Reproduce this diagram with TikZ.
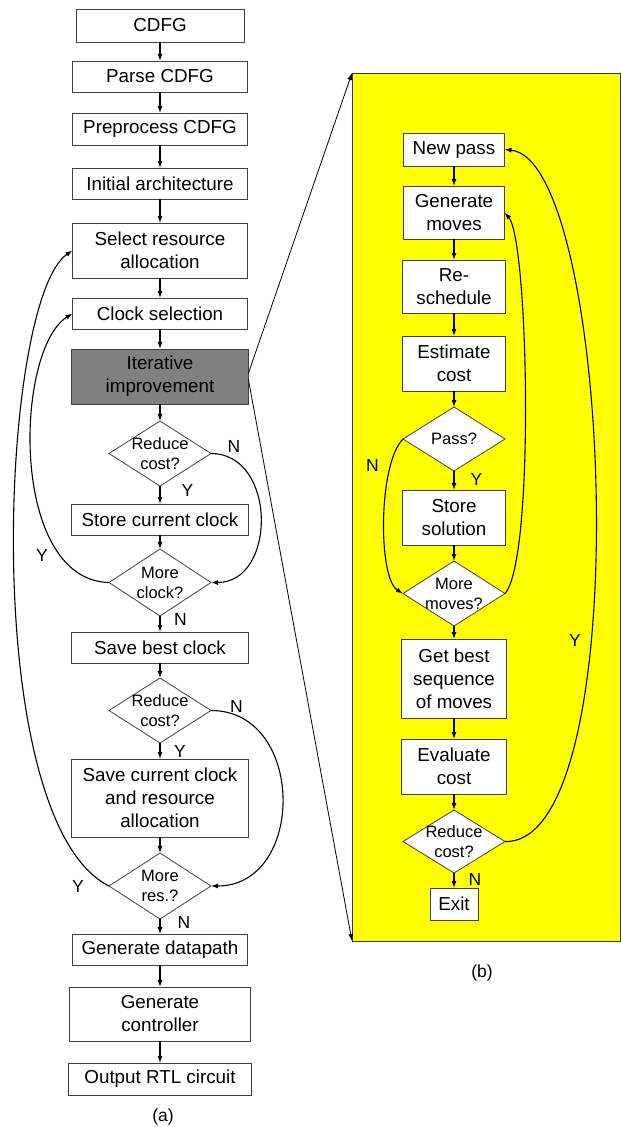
\documentclass[tikz,border=0pt]{standalone}
\usepackage{fontspec}
\setmainfont{Liberation Sans}
\usetikzlibrary{shapes.geometric,arrows.meta,positioning}
\definecolor{panelyellow}{rgb}{1,1,0}
\definecolor{itergray}{rgb}{.5,.5,.5}

\begin{document}
\begin{tikzpicture}[x=1pt,y=-1pt,% pixel-like coordinates, y runs downwards
      every node/.style={
        align=center,   % so that "\\" breaks lines
        inner sep=0pt,
        outer sep=0pt   % keeps the gaps as measured
      },
      box/.style={rectangle,draw=black!75,line width=0.8pt,fill=white,
        minimum width=175pt,minimum height=31pt,
        font=\fontsize{18.8}{23}\selectfont},
      rbox/.style={box,minimum width=103pt},
      dia/.style={diamond,draw=black!75,line width=0.8pt,fill=white,
        minimum width=102pt,minimum height=65pt},
      dtxt/.style={font=\fontsize{16.5}{20}\selectfont},
      lbl/.style={font=\fontsize{17.5}{20}\selectfont},
      flow/.style={line width=1.1pt,->},
      >={Latex[length=7pt,width=5pt]},
      every edge/.style={draw,line width=1.1pt}
    ]
    \useasboundingbox (0,0) rectangle (621,1127);

    % (b) the yellow panel goes first, behind its boxes
    \node[draw=black!80,line width=0.8pt,fill=panelyellow,
      minimum width=268pt,minimum height=868pt] (panel) at (486,507) {};

    % (a) main flow
    \node[box,minimum width=168pt,minimum height=33pt] (cdfg) at (160,25.5) {CDFG};
    \node[box,below=19pt of cdfg] (parse) {Parse CDFG};
    \node[box,minimum height=32pt,below=21pt of parse] (prep) {Preprocess CDFG};
    \node[box,below=23pt of prep] (init) {Initial architecture};
    \node[box,minimum height=55pt,below=24pt of init] (sel) {Select resource\\allocation};
    \node[box,below=20pt of sel] (clk) {Clock selection};
    \node[box,fill=itergray,minimum width=177pt,minimum height=55pt,below=20pt of clk] (iter) {Iterative\\improvement};
    \node[dia,label={[dtxt]center:Reduce\\cost?},below=17pt of iter] (rcA) {};
    \node[box,minimum width=177pt,below=18pt of rcA] (store) {Store current clock};
    \node[dia,minimum height=67pt,label={[dtxt]center:More\\clock?},below=14pt of store] (moreclk) {};
    \node[box,minimum width=177pt,below=16pt of moreclk] (best) {Save best clock};
    \node[dia,label={[dtxt]center:Reduce\\cost?},below=15pt of best] (rcB) {};
    \node[box,minimum width=177pt,minimum height=78pt,below=16pt of rcB] (savecur) {Save current clock\\and resource\\allocation};
    \node[dia,minimum height=66pt,label={[dtxt]center:More\\res.?},below=16pt of savecur] (moreres) {};
    \node[box,below=15pt of moreres] (gdp) {Generate datapath};
    \node[box,minimum width=181pt,minimum height=54pt,below=22pt of gdp] (gctl) {Generate\\controller};
    \node[box,minimum width=183pt,minimum height=32pt,below=22pt of gctl] (rtl) {Output RTL circuit};

    % (b) iterative improvement
    \node[rbox,minimum width=101pt,minimum height=33pt] (npass) at (454,149.5) {New pass};
    \node[rbox,minimum width=101pt,minimum height=53pt,below=20pt of npass] (genmv) {Generate\\moves};
    \node[rbox,minimum height=53pt,below=21pt of genmv] (resch) {Re-\\schedule};
    \node[rbox,minimum height=55pt,below=23pt of resch] (estc) {Estimate\\cost};
    \node[dia,minimum height=64pt,label={[dtxt]center:Pass?},below=16pt of estc] (pass) {};
    \node[rbox,minimum height=55pt,below=19pt of pass] (sols) {Store\\solution};
    \node[dia,label={[dtxt]center:More\\moves?},below=16pt of sols] (moremv) {};
    \node[rbox,minimum width=105pt,minimum height=79pt,below=13pt of moremv] (getbest) {Get best\\sequence\\of moves};
    \node[rbox,minimum width=105pt,minimum height=55pt,below=21pt of getbest] (evc) {Evaluate\\cost};
    \node[dia,minimum height=63pt,label={[dtxt]center:Reduce\\cost?},below=16pt of evc] (rcC) {};
    \node[rbox,minimum width=48pt,minimum height=32pt,below=15pt of rcC] (exit) {Exit};

    \path[->]
    (cdfg)edge (parse)
    (parse)edge (prep)
    (prep)edge (init)
    (init)edge (sel)
    (sel)edge (clk)
    (clk)edge (iter)
    (iter)edge (rcA)
    (rcA)edge (store)
    (store)edge (moreclk)
    (moreclk)edge (best)
    (best)edge (rcB)
    (rcB)edge (savecur)
    (savecur)edge (moreres)
    (moreres)edge (gdp)
    (gdp)edge (gctl)
    (gctl)edge (rtl)
    (npass)edge (genmv)
    (genmv)edge (resch)
    (resch)edge (estc)
    (estc)edge (pass)
    (pass)edge (sols)
    (sols)edge (moremv)
    (moremv)edge (getbest)
    (getbest)edge (evc)
    (evc)edge (rcC)
    (rcC)edge (exit)
    ;

    % loops of (a)
    \draw[flow] (rcA.east) .. controls +(66,0) and +(66,0) .. (moreclk.east);
    \draw[flow] (moreclk.west) .. controls +(-100,-2.5) and +(-58,36.5) .. (clk.west);
    \draw[flow] (rcB.east) .. controls +(95,0) and +(95,0) .. (moreres.east);
    \draw[flow] (moreres.west) .. controls +(-131,-66) and +(-73,49.5) .. (sel.west);

    % loops of (b)
    \draw[flow] (pass.west) .. controls +(-25,25) and +(-25,-15) .. (moremv.west);
    \draw[flow] (moremv.east) .. controls +(30,-33.5) and +(24,27.5) .. (genmv.east);
    \draw[flow] (rcC.east) .. controls +(134,3.5) and +(108,10.5) .. (npass.east);

    % zoom lines to the panel
    \draw[->,line width=0.8pt] ([yshift=3.5pt]iter.east) -- (panel.north west);
    \draw[->,line width=0.8pt] ([yshift=-3.5pt]iter.east) -- (panel.south west);

    % branch labels
    \node[lbl] (nA) at (234,446.5) {N};
    \node[lbl] (yA) at (187.5,490) {Y};
    \node[lbl] (yB) at (42,555) {Y};
    \node[lbl] (nB) at (180.5,619.5) {N};
    \node[lbl] (nC) at (236.5,706.5) {N};
    \node[lbl] (yC) at (180,751) {Y};
    \node[lbl] (yD) at (78,886.5) {Y};
    \node[lbl] (nD) at (184,922) {N};
    \node[lbl] (nE) at (372.5,465.5) {N};
    \node[lbl] (yE) at (476.5,479) {Y};
    \node[lbl] (yF) at (575,640) {Y};
    \node[lbl] (nF) at (475,879) {N};

    % captions
    \node[lbl] (capa) at (163,1117) {(a)};
    \node[lbl] (capb) at (482,973) {(b)};
  \end{tikzpicture}
\end{document}
